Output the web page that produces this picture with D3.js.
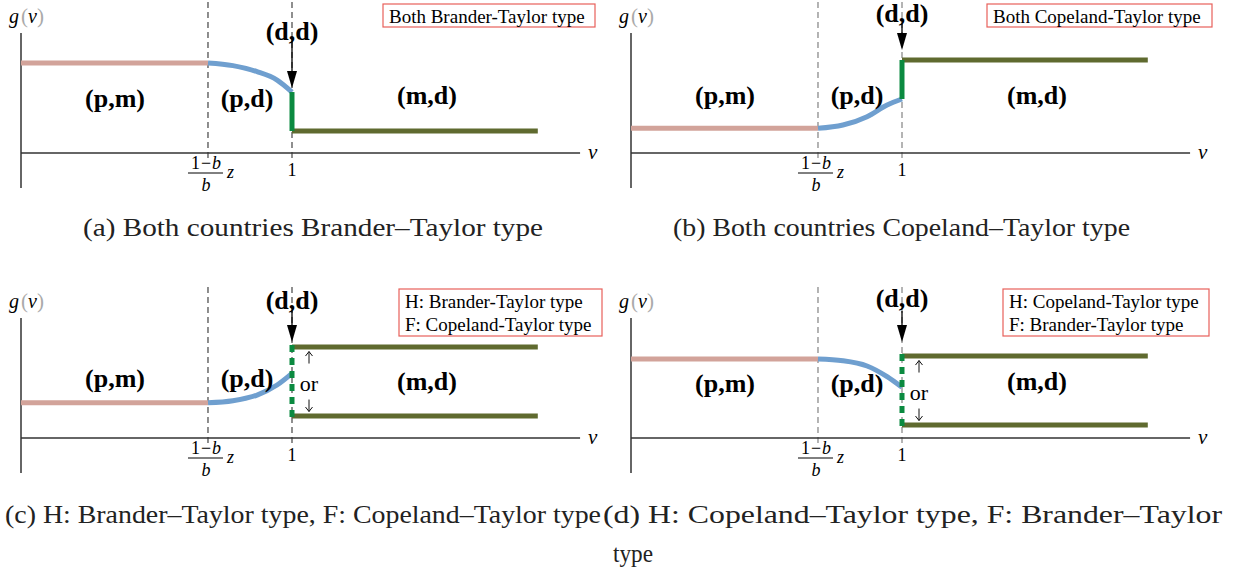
<!DOCTYPE html>
<html><head><meta charset="utf-8">
<script src="https://cdn.jsdelivr.net/npm/d3@7"></script>
<style>body{margin:0;background:#fff}</style>
</head><body>
<svg id="chart" width="1235" height="576"></svg>
<script>
// ---------- data ----------
const panelIds = ["a", "b", "c", "d"];
const vThreshold = 0.69;      // (1-b)/b z
const vOne = 1;
const vLineEnd = 1.907;
const vAxisEnd = 2.063;
const pmLevels = [0.75, 0.206, 0.294, 0.658];
const pdCurveV = [0.69, 0.782, 0.871, 0.945, 1.0];
const pdCurveA = [0.75, 0.728, 0.678, 0.608, 0.508];
const pdCurveB = [0.206, 0.233, 0.303, 0.40, 0.45];
const pdCurveC = [0.294, 0.311, 0.358, 0.442, 0.539];
const pdCurveD = [0.658, 0.644, 0.60, 0.511, 0.422];
const mdLevelsA = [0.183];
const mdLevelsB = [0.775];
const mdLevelsC = [0.758, 0.183];
const mdLevelsD = [0.683, 0.108];
const regionLabels = ["(p,m)", "(p,d)", "(m,d)"];
const eqLabel = "(d,d)";
const tickOne = "1";
const legendA = ["Both Brander-Taylor type"];
const legendB = ["Both Copeland-Taylor type"];
const legendC = ["H: Brander-Taylor type", "F: Copeland-Taylor type"];
const legendD = ["H: Copeland-Taylor type", "F: Brander-Taylor type"];
const captionA = "(a) Both countries Brander–Taylor type";
const captionB = "(b) Both countries Copeland–Taylor type";
const captionC = "(c) H: Brander–Taylor type, F: Copeland–Taylor type";
const captionD1 = "(d) H: Copeland–Taylor type, F: Brander–Taylor";
const captionD2 = "type";

// ---------- styling / layout ----------
const curves = {a: pdCurveA, b: pdCurveB, c: pdCurveC, d: pdCurveD};
const mds = {a: mdLevelsA, b: mdLevelsB, c: mdLevelsC, d: mdLevelsD};
const legends = {a: legendA, b: legendB, c: legendC, d: legendD};
const layout = {
  a: {dx: 0,   dy: 0,   dd: 40, arrTop: 38, arrTip: 88, dash: "#333", pm: 107, pd: 107, md: 104, lg: {x: 383, w: 212}},
  b: {dx: 610, dy: 0,   dd: 22, arrTop: 24, arrTip: 50, dash: "#777", pm: 104, pd: 104, md: 104, lg: {x: 377, w: 225}},
  c: {dx: 0,   dy: 285, dd: 24, arrTop: 26, arrTip: 57, dash: "#333", pm: 102, pd: 102, md: 105, lg: {x: 399, w: 203}},
  d: {dx: 610, dy: 285, dd: 22, arrTop: 26, arrTip: 57, dash: "#777", pm: 107, pd: 107, md: 105, lg: {x: 393, w: 206}}
};
const C = {pm: "#d2a39a", pd: "#6f9fcf", jump: "#0b8a40", md: "#5f6a2f", axis: "#333"};
const serif = "'Liberation Serif', 'Times New Roman', serif";

const svg = d3.select("#chart");
const x = d3.scaleLinear().domain([0, 1]).range([21, 292]);
const y = d3.scaleLinear().domain([0, 1]).range([153, 33]);

panelIds.forEach((id, i) => {
  const L = layout[id];
  const g = svg.append("g").attr("transform", `translate(${L.dx},${L.dy})`);
  const md = mds[id];
  const curve = curves[id];
  const curveEnd = curve[curve.length - 1];

  // dashed reference lines
  [vThreshold, vOne].forEach(v => {
    g.append("line").attr("x1", x(v)).attr("x2", x(v)).attr("y1", 2).attr("y2", 160)
      .attr("stroke", L.dash).attr("stroke-width", 1.1).attr("stroke-dasharray", "6,4");
  });

  // axes
  g.append("line").attr("x1", x(0)).attr("x2", x(0)).attr("y1", y(1)).attr("y2", y(0) + 35)
    .attr("stroke", C.axis).attr("stroke-width", 1.5);
  g.append("line").attr("x1", x(0)).attr("x2", x(vAxisEnd)).attr("y1", y(0)).attr("y2", y(0))
    .attr("stroke", C.axis).attr("stroke-width", 1.5);

  // (p,m) flat segment
  g.append("line").attr("x1", x(0)).attr("x2", x(vThreshold))
    .attr("y1", y(pmLevels[i])).attr("y2", y(pmLevels[i]))
    .attr("stroke", C.pm).attr("stroke-width", 5);

  // (p,d) curve
  const pts = pdCurveV.map((v, k) => [v, curve[k]]);
  g.append("path").datum(pts)
    .attr("d", d3.line().x(d => x(d[0])).y(d => y(d[1])).curve(d3.curveMonotoneX))
    .attr("fill", "none").attr("stroke", C.pd).attr("stroke-width", 5);

  // (m,d) lines
  md.forEach(lv => {
    g.append("line").attr("x1", x(vOne)).attr("x2", x(vLineEnd)).attr("y1", y(lv)).attr("y2", y(lv))
      .attr("stroke", C.md).attr("stroke-width", 5);
  });

  // jump at v = 1
  if (md.length === 1) {
    g.append("line").attr("x1", x(vOne)).attr("x2", x(vOne))
      .attr("y1", y(curveEnd)).attr("y2", y(md[0]))
      .attr("stroke", C.jump).attr("stroke-width", 5);
  } else {
    g.append("line").attr("x1", x(vOne)).attr("x2", x(vOne))
      .attr("y1", y(md[0]) - 2).attr("y2", y(md[1]) + 2)
      .attr("stroke", C.jump).attr("stroke-width", 5).attr("stroke-dasharray", "7,6");
    const mid = (y(md[0]) + y(md[1])) / 2;
    const ox = x(vOne) + 17;
    // small thin arrows (up / down)
    const thinArrow = (y1, y2) => {
      g.append("line").attr("x1", ox).attr("x2", ox).attr("y1", y1).attr("y2", y2)
        .attr("stroke", "#111").attr("stroke-width", 1);
      const dir = y2 < y1 ? 1 : -1;
      g.append("path").attr("d", `M${ox - 3.5},${y2 + dir * 4.5} L${ox},${y2} L${ox + 3.5},${y2 + dir * 4.5}`)
        .attr("fill", "none").attr("stroke", "#111").attr("stroke-width", 1);
    };
    thinArrow(mid - 18, mid - 30);
    thinArrow(mid + 18, mid + 30);
    g.append("text").attr("x", ox).attr("y", mid + 2).attr("dy", "0.35em").attr("text-anchor", "middle")
      .attr("font-family", serif).attr("font-size", 22).text("or");
  }

  // arrow to equilibrium point
  const ax = x(vOne);
  g.append("line").attr("x1", ax).attr("x2", ax).attr("y1", L.arrTop).attr("y2", L.arrTip - 12)
    .attr("stroke", "#000").attr("stroke-width", 1.3);
  g.append("path")
    .attr("d", `M${ax - 5},${L.arrTip - 17} L${ax + 5},${L.arrTip - 17} L${ax},${L.arrTip} Z`)
    .attr("fill", "#000");

  // region labels
  const lbl = (txt, cx, by) => g.append("text").attr("x", cx).attr("y", by).attr("text-anchor", "middle")
    .attr("font-family", serif).attr("font-weight", "bold").attr("font-size", 26).text(txt);
  lbl(eqLabel, x(vOne), L.dd);
  lbl(regionLabels[0], 115, L.pm);
  lbl(regionLabels[1], 247, L.pd);
  lbl(regionLabels[2], 427, L.md);

  // g(v) label
  const gv = g.append("text").attr("x", 9).attr("y", 23).attr("font-family", serif).attr("font-size", 20);
  gv.append("tspan").attr("font-style", "italic").text("g");
  gv.append("tspan").attr("fill", "#aaa").attr("font-size", 21).attr("dx", 2).text("(");
  gv.append("tspan").attr("font-style", "italic").text("v");
  gv.append("tspan").attr("fill", "#aaa").attr("font-size", 21).text(")");

  // v axis label
  g.append("text").attr("x", x(vAxisEnd) + 8).attr("y", y(0) + 6).attr("font-family", serif)
    .attr("font-style", "italic").attr("font-size", 21).text("v");

  // tick labels
  g.append("text").attr("x", x(vOne)).attr("y", y(0) + 23).attr("text-anchor", "middle")
    .attr("font-family", serif).attr("font-size", 18).text(tickOne);
  const fx = x(vThreshold) - 2;
  const num = g.append("text").attr("x", fx).attr("y", y(0) + 16).attr("text-anchor", "middle")
    .attr("font-family", serif).attr("font-size", 18);
  num.append("tspan").text("1");
  num.append("tspan").attr("dx", 1).text("−");
  num.append("tspan").attr("font-style", "italic").attr("dx", 1).text("b");
  g.append("line").attr("x1", fx - 18).attr("x2", fx + 17).attr("y1", y(0) + 20).attr("y2", y(0) + 20)
    .attr("stroke", "#000").attr("stroke-width", 1);
  g.append("text").attr("x", fx).attr("y", y(0) + 38).attr("text-anchor", "middle")
    .attr("font-family", serif).attr("font-style", "italic").attr("font-size", 18).text("b");
  g.append("text").attr("x", fx + 21).attr("y", y(0) + 25)
    .attr("font-family", serif).attr("font-style", "italic").attr("font-size", 18).text("z");

  // legend box
  const lines = legends[id];
  const lh = lines.length === 1 ? 23 : 47;
  g.append("rect").attr("x", L.lg.x).attr("y", 4).attr("width", L.lg.w).attr("height", lh)
    .attr("fill", "#fff").attr("stroke", "#e8605a").attr("stroke-width", 1.2);
  lines.forEach((t, k) => {
    g.append("text").attr("x", L.lg.x + 6).attr("y", 4 + 19 + k * 23)
      .attr("font-family", serif).attr("font-size", 19).text(t);
  });
});

// captions
const cap = (txt, xx, yy, len) => {
  const t = svg.append("text").attr("x", xx).attr("y", yy).attr("font-family", serif)
    .attr("font-size", 26).attr("fill", "#222").text(txt);
  if (len) t.attr("textLength", len).attr("lengthAdjust", "spacingAndGlyphs");
};
cap(captionA, 83, 236, 460);
cap(captionB, 673, 236, 457);
cap(captionC, 5, 523, 596);
cap(captionD1, 603, 523, 619);
cap(captionD2, 613, 562, 40);
</script>
</body></html>
